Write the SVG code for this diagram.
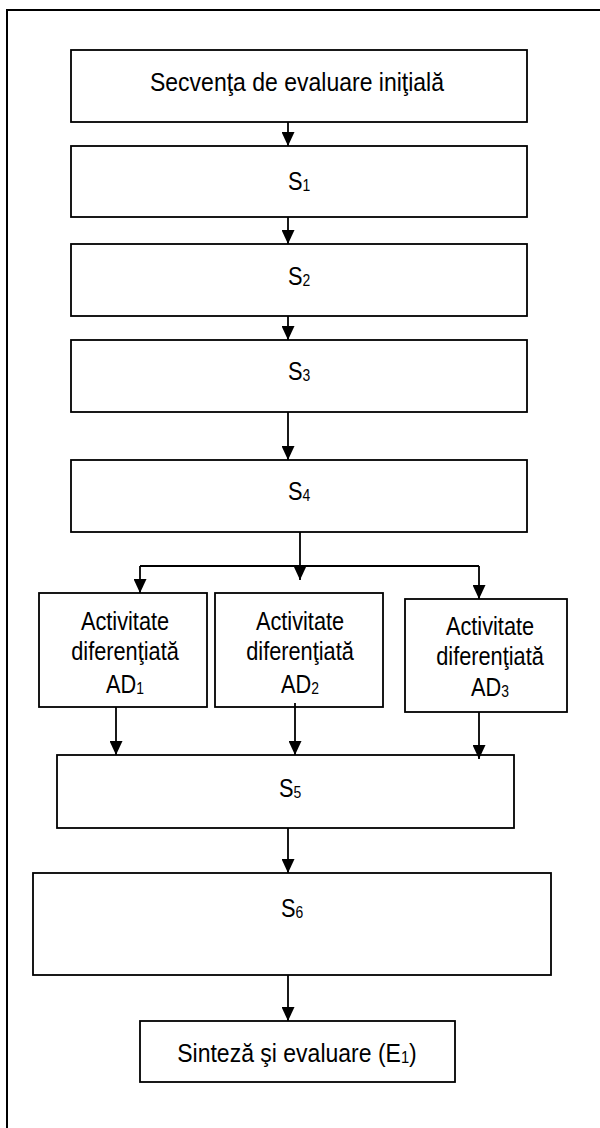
<svg xmlns="http://www.w3.org/2000/svg" width="600" height="1128" viewBox="0 0 600 1128">
<style>
.box{fill:#fff;stroke:#000;stroke-width:1.8}
.frame{fill:none;stroke:#000;stroke-width:2}
.t{font-family:"Liberation Sans",Arial,sans-serif;font-size:25px;fill:#000;text-anchor:middle}
.ad{font-family:"Liberation Sans",Arial,sans-serif;font-size:25px;fill:#000;text-anchor:middle}
.sub{font-size:16px}
.c{stroke:#000;stroke-width:1.8;fill:none}
</style>
<defs>
<marker id="ah" markerUnits="userSpaceOnUse" viewBox="0 0 14 13" markerWidth="14" markerHeight="13" refX="14" refY="6.5" orient="auto">
<path d="M0,0 L14,6.5 L0,13 z" fill="#000"/>
</marker>
</defs>
<rect x="0" y="0" width="600" height="1128" fill="#fff"/>
<rect class="frame" x="7" y="10" width="700" height="1200"/>

<g id="n-start"><rect class="box" x="71" y="50" width="456" height="72"/><text class="t" transform="translate(297,91) scale(0.92,1)" font-size="27">Secvenţa de evaluare iniţială</text></g>
<g id="n-s1"><rect class="box" x="71" y="146" width="456" height="71"/><text class="t" transform="translate(299,190) scale(0.87,1)">S<tspan class="sub" dy="1">1</tspan></text></g>
<g id="n-s2"><rect class="box" x="71" y="244" width="456" height="72"/><text class="t" transform="translate(299,285) scale(0.87,1)">S<tspan class="sub" dy="1">2</tspan></text></g>
<g id="n-s3"><rect class="box" x="71" y="340" width="456" height="72"/><text class="t" transform="translate(299,380) scale(0.87,1)">S<tspan class="sub" dy="1">3</tspan></text></g>
<g id="n-s4"><rect class="box" x="71" y="460" width="456" height="72"/><text class="t" transform="translate(299,500) scale(0.87,1)">S<tspan class="sub" dy="1">4</tspan></text></g>

<g id="n-ad1"><rect class="box" x="39" y="593" width="168" height="114"/>
<text class="ad" transform="translate(125,630) scale(0.87,1)">Activitate</text><text class="ad" transform="translate(125,660) scale(0.87,1)">diferenţiată</text><text class="ad" transform="translate(125,693) scale(0.87,1)">AD<tspan class="sub" dy="1">1</tspan></text></g>
<g id="n-ad2"><rect class="box" x="215" y="593" width="168" height="114"/>
<text class="ad" transform="translate(300,630) scale(0.87,1)">Activitate</text><text class="ad" transform="translate(300,660) scale(0.87,1)">diferenţiată</text><text class="ad" transform="translate(300,693) scale(0.87,1)">AD<tspan class="sub" dy="1">2</tspan></text></g>
<g id="n-ad3"><rect class="box" x="405" y="599" width="162" height="113"/>
<text class="ad" transform="translate(490,635) scale(0.87,1)">Activitate</text><text class="ad" transform="translate(490,665) scale(0.87,1)">diferenţiată</text><text class="ad" transform="translate(490,696) scale(0.87,1)">AD<tspan class="sub" dy="1">3</tspan></text></g>

<g id="n-s5"><rect class="box" x="57" y="755" width="457" height="73"/><text class="t" transform="translate(290,797) scale(0.87,1)">S<tspan class="sub" dy="1">5</tspan></text></g>
<g id="n-s6"><rect class="box" x="33" y="873" width="518" height="102"/><text class="t" transform="translate(292,917) scale(0.87,1)">S<tspan class="sub" dy="1">6</tspan></text></g>
<g id="n-end"><rect class="box" x="140" y="1021" width="315" height="61"/><text class="t" transform="translate(297,1062) scale(0.92,1)">Sinteză şi evaluare (E<tspan class="sub" dy="1">1</tspan><tspan dy="-1">)</tspan></text></g>

<g id="connectors">
<line class="c" x1="288" y1="122" x2="288" y2="146" marker-end="url(#ah)"/>
<line class="c" x1="288" y1="217" x2="288" y2="244" marker-end="url(#ah)"/>
<line class="c" x1="288" y1="316" x2="288" y2="340" marker-end="url(#ah)"/>
<line class="c" x1="288" y1="412" x2="288" y2="460" marker-end="url(#ah)"/>
<line class="c" x1="300" y1="532" x2="300" y2="580" marker-end="url(#ah)"/>
<line class="c" x1="140" y1="566" x2="479" y2="566"/>
<line class="c" x1="140" y1="566" x2="140" y2="593" marker-end="url(#ah)"/>
<line class="c" x1="479" y1="566" x2="479" y2="599" marker-end="url(#ah)"/>
<line class="c" x1="116" y1="707" x2="116" y2="755" marker-end="url(#ah)"/>
<line class="c" x1="295" y1="703" x2="295" y2="755" marker-end="url(#ah)"/>
<line class="c" x1="479" y1="712" x2="479" y2="759" marker-end="url(#ah)"/>
<line class="c" x1="288" y1="828" x2="288" y2="873" marker-end="url(#ah)"/>
<line class="c" x1="288" y1="975" x2="288" y2="1021" marker-end="url(#ah)"/>
</g>
</svg>
